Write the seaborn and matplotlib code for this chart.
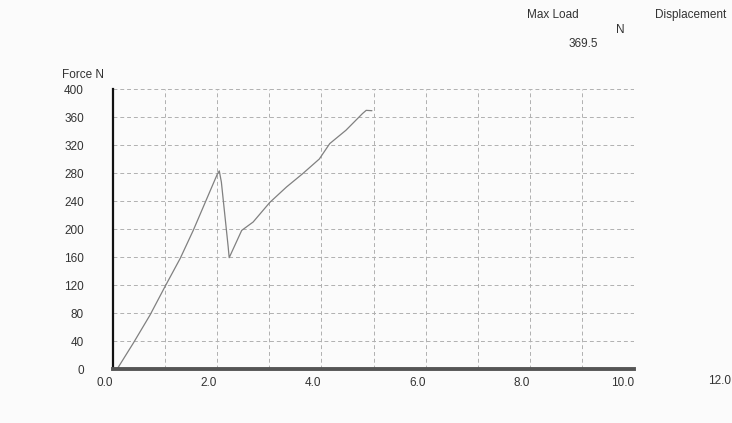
import matplotlib
matplotlib.use('Agg')
import matplotlib.pyplot as plt
import seaborn as sns
import pandas as pd

# Displacement (mm) and force (N)
displacement = [0.08, 0.39, 0.71, 1.00, 1.29, 1.54, 1.77, 2.00, 2.04, 2.08, 2.21, 2.23,
                2.47, 2.69, 3.01, 3.33, 3.64, 3.96, 4.16, 4.47, 4.79, 4.86, 4.97]
force = [0, 37, 77, 118, 158, 198, 238, 278, 283, 267, 175, 159,
         198, 210, 238, 260, 279, 300, 322, 341, 365, 369.5, 369]

x_major = [0, 2, 4, 6, 8, 10]
x_minor = [1, 3, 5, 7, 9]
x_labels = ['0.0', '2.0', '4.0', '6.0', '8.0', '10.0']
y_ticks = [0, 40, 80, 120, 160, 200, 240, 280, 320, 360, 400]
max_load = '369.5'

df = pd.DataFrame({'Displacement': displacement, 'Force': force})

W, H = 732, 423
bg = '#fbfbfb'

sns.set_style('white')
plt.rcParams['font.family'] = ['Liberation Sans', 'DejaVu Sans']

fig = plt.figure(figsize=(W / 100, H / 100), dpi=100, facecolor=bg)
ax = fig.add_axes([113 / W, 1 - 369 / H, (634 - 113) / W, (369 - 89) / H])
ax.set_facecolor(bg)

sns.lineplot(data=df, x='Displacement', y='Force', ax=ax, color='#808080',
             linewidth=0.9, sort=False)

ax.set_xlim(0, 10)
ax.set_ylim(0, 400)
ax.set_xticks(x_major)
ax.set_xticks(x_minor, minor=True)
ax.set_xticklabels(x_labels)
ax.set_yticks(y_ticks)
ax.set_yticklabels([str(v) for v in y_ticks])
ax.set_xlabel('')
ax.set_ylabel('')

for lab in ax.get_xticklabels():
    lab.set_horizontalalignment('right')
ax.tick_params(axis='x', which='both', length=0, pad=6, labelsize=8.5, labelcolor='#333333')
ax.tick_params(axis='y', length=0, pad=21, labelsize=8.5, labelcolor='#333333')

ax.grid(True, which='both', linestyle=(0, (4, 3)), color='#b0b0b0', linewidth=0.7)
ax.set_axisbelow(True)

for side in ['top', 'right']:
    ax.spines[side].set_visible(False)
ax.spines['left'].set_color('#111111')
ax.spines['left'].set_linewidth(1.6)
ax.spines['bottom'].set_color('#555555')
ax.spines['bottom'].set_linewidth(2.8)

# labels drawn as free text around the plot
fig.text(62 / W, 1 - 75 / H, 'Force N', fontsize=8.5, color='#333333', va='center')
fig.text(731 / W, 1 - 381 / H, '12.0', fontsize=8.5, color='#333333', ha='right', va='center')
fig.text(527 / W, 1 - 15 / H, 'Max Load', fontsize=8.5, color='#333333', va='center')
fig.text(616 / W, 1 - 30 / H, 'N', fontsize=8.5, color='#333333', va='center')
fig.text(569 / W, 1 - 44 / H, max_load, fontsize=8.5, color='#333333', va='center')
fig.text(655 / W, 1 - 15 / H, 'Displacement', fontsize=8.5, color='#333333', va='center')

fig.savefig('out.png', dpi=100, facecolor=bg)
